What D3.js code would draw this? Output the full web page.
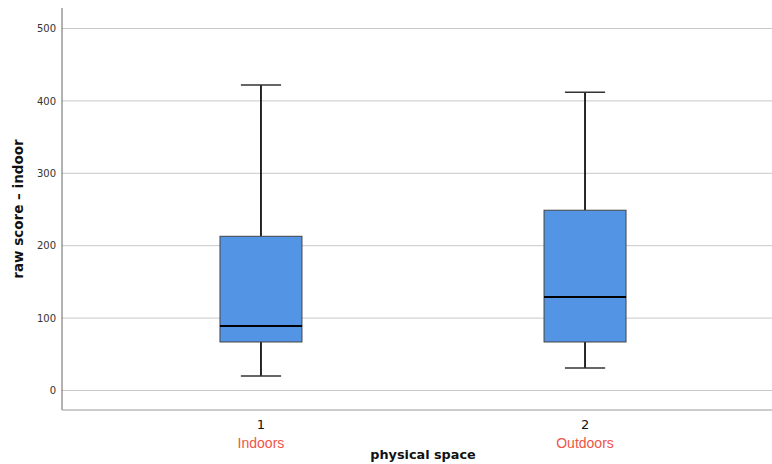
<!DOCTYPE html>
<html>
<head>
<meta charset="utf-8">
<script src="https://cdn.jsdelivr.net/npm/d3@7"></script>
<style>
  html, body { margin: 0; padding: 0; background: #fff; }
  svg { display: block; }
</style>
</head>
<body>
<svg id="chart" width="772" height="464"></svg>
<script>
// Box plot summaries per group
const groups = ["1", "2"];
const groupNames = ["Indoors", "Outdoors"];
const whiskerLow = [20, 31];
const q1 = [67, 67];
const median = [89, 129];
const q3 = [213, 249];
const whiskerHigh = [422, 412];
const yTicks = [0, 100, 200, 300, 400, 500];

const svg = d3.select("#chart");
const W = 772, H = 464;
const plotLeft = 62, plotTop = 8, plotBottom = 410;

const y = d3.scaleLinear().domain([0, 500]).range([390.5, 28.5]);
const x = d3.scalePoint().domain(groups).range([plotLeft, 784]).padding(0.614);
const boxW = x.step() * 0.253;
const capW = x.step() * 0.124;

// Gridlines
svg.append("g")
  .selectAll("line")
  .data(yTicks)
  .join("line")
  .attr("x1", plotLeft).attr("x2", W)
  .attr("y1", d => y(d)).attr("y2", d => y(d))
  .attr("stroke", "#c8c8c8").attr("stroke-width", 1);

// Y axis
const yAxis = svg.append("g")
  .attr("transform", `translate(${plotLeft},0)`)
  .call(d3.axisLeft(y).tickValues(yTicks).tickSize(0).tickPadding(6));
yAxis.select(".domain").remove();
yAxis.selectAll("text")
  .attr("font-family", "DejaVu Sans, sans-serif")
  .attr("font-size", 10)
  .attr("fill", "#333");

svg.append("line")
  .attr("x1", plotLeft).attr("x2", plotLeft)
  .attr("y1", plotTop).attr("y2", plotBottom)
  .attr("stroke", "#666").attr("stroke-width", 1);
svg.append("line")
  .attr("x1", plotLeft).attr("x2", W)
  .attr("y1", plotBottom).attr("y2", plotBottom)
  .attr("stroke", "#999").attr("stroke-width", 1.2);

// Boxes
const data = groups.map((g, i) => ({
  g, lo: whiskerLow[i], q1: q1[i], med: median[i], q3: q3[i], hi: whiskerHigh[i]
}));

const box = svg.append("g").selectAll("g").data(data).join("g");

box.append("line")
  .attr("x1", d => x(d.g)).attr("x2", d => x(d.g))
  .attr("y1", d => y(d.hi)).attr("y2", d => y(d.q3))
  .attr("stroke", "#111").attr("stroke-width", 1.8);
box.append("line")
  .attr("x1", d => x(d.g)).attr("x2", d => x(d.g))
  .attr("y1", d => y(d.q1)).attr("y2", d => y(d.lo))
  .attr("stroke", "#111").attr("stroke-width", 1.8);
box.append("line")
  .attr("x1", d => x(d.g) - capW / 2).attr("x2", d => x(d.g) + capW / 2)
  .attr("y1", d => y(d.hi)).attr("y2", d => y(d.hi))
  .attr("stroke", "#333").attr("stroke-width", 1.5);
box.append("line")
  .attr("x1", d => x(d.g) - capW / 2).attr("x2", d => x(d.g) + capW / 2)
  .attr("y1", d => y(d.lo)).attr("y2", d => y(d.lo))
  .attr("stroke", "#333").attr("stroke-width", 1.5);
box.append("rect")
  .attr("x", d => x(d.g) - boxW / 2)
  .attr("width", boxW)
  .attr("y", d => y(d.q3))
  .attr("height", d => y(d.q1) - y(d.q3))
  .attr("fill", "#5394e4")
  .attr("stroke", "#444").attr("stroke-width", 1);
box.append("line")
  .attr("x1", d => x(d.g) - boxW / 2).attr("x2", d => x(d.g) + boxW / 2)
  .attr("y1", d => y(d.med)).attr("y2", d => y(d.med))
  .attr("stroke", "#000").attr("stroke-width", 2);

// X tick labels and group names
const xl = svg.append("g").selectAll("g").data(groups).join("g");
xl.append("text")
  .attr("x", d => x(d)).attr("y", 429)
  .attr("text-anchor", "middle")
  .attr("font-family", "DejaVu Sans, sans-serif")
  .attr("font-size", 13).attr("fill", "#111")
  .text(d => d);
xl.append("text")
  .attr("x", d => x(d)).attr("y", 448)
  .attr("text-anchor", "middle")
  .attr("font-family", "Liberation Sans, Arial, sans-serif")
  .attr("font-size", 14).attr("fill", "#ef5548")
  .text((d, i) => groupNames[i]);

// Axis titles
svg.append("text")
  .attr("x", 423).attr("y", 459)
  .attr("text-anchor", "middle")
  .attr("font-family", "DejaVu Sans, sans-serif")
  .attr("font-weight", "bold")
  .attr("font-size", 12.8).attr("fill", "#111")
  .text("physical space");
svg.append("text")
  .attr("transform", "translate(23,209) rotate(-90)")
  .attr("text-anchor", "middle")
  .attr("font-family", "DejaVu Sans, sans-serif")
  .attr("font-weight", "bold")
  .attr("font-size", 13.5).attr("fill", "#111")
  .text("raw score – indoor");
</script>
</body>
</html>
